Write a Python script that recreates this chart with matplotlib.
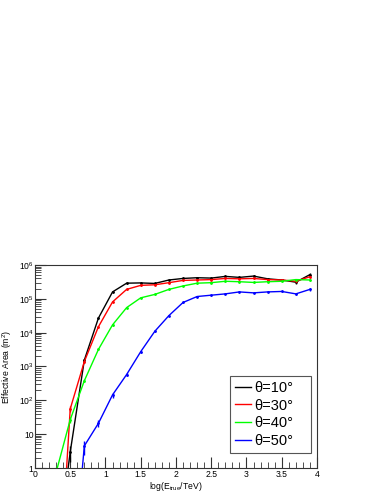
import matplotlib
matplotlib.use("Agg")
import matplotlib.pyplot as plt
import numpy as np
from matplotlib.ticker import LogLocator, NullFormatter, FuncFormatter, MultipleLocator, FixedLocator

plt.rcParams['font.family'] = ['Liberation Sans', 'DejaVu Sans']
plt.rcParams['mathtext.fontset'] = 'custom'
plt.rcParams['mathtext.rm'] = 'Liberation Sans'
plt.rcParams['mathtext.it'] = 'Liberation Sans:italic'

x10 = [0.3, 0.5, 0.7, 0.9, 1.1, 1.3, 1.5, 1.7, 1.9, 2.1, 2.3, 2.5, 2.7, 2.9, 3.1, 3.3, 3.5, 3.7, 3.9]
y10 = [0.002, 3, 1.55e3, 2.7e4, 1.6e5, 2.9e5, 2.95e5, 2.85e5, 3.6e5, 4.0e5, 4.2e5, 4.1e5, 4.6e5, 4.3e5, 4.7e5, 3.9e5, 3.6e5, 3.1e5, 5.2e5]
e10 = [0.0, 1.5, 150, 1.5e3, 5e3, 8e3, 8e3, 8e3, 1e4, 1e4, 1.2e4, 1.2e4, 1.5e4, 1.5e4, 2e4, 2e4, 2.5e4, 4e4, 6e4]

x30 = [0.3, 0.5, 0.7, 0.9, 1.1, 1.3, 1.5, 1.7, 1.9, 2.1, 2.3, 2.5, 2.7, 2.9, 3.1, 3.3, 3.5, 3.7, 3.9]
y30 = [1e-5, 56, 1.4e3, 1.5e4, 8.1e4, 1.9e5, 2.5e5, 2.6e5, 3.0e5, 3.5e5, 3.6e5, 3.7e5, 4.0e5, 3.9e5, 4.0e5, 3.7e5, 3.6e5, 3.3e5, 4.5e5]
e30 = [0.0, 10, 120, 800, 3e3, 5e3, 6e3, 7e3, 8e3, 1e4, 1e4, 1e4, 1.2e4, 1.3e4, 1.5e4, 1.6e4, 2e4, 3e4, 4.5e4]

x40 = [0.3, 0.5, 0.7, 0.9, 1.1, 1.3, 1.5, 1.7, 1.9, 2.1, 2.3, 2.5, 2.7, 2.9, 3.1, 3.3, 3.5, 3.7, 3.9]
y40 = [0.75, 27, 380, 3.2e3, 1.7e4, 5.5e4, 1.07e5, 1.35e5, 1.9e5, 2.4e5, 2.9e5, 3.0e5, 3.3e5, 3.2e5, 3.05e5, 3.2e5, 3.3e5, 3.7e5, 3.6e5]
e40 = [0.3, 5, 40, 200, 800, 2e3, 3e3, 4e3, 5e3, 6e3, 7e3, 8e3, 9e3, 1e4, 1e4, 1.1e4, 1.3e4, 2e4, 2.5e4]

x50 = [0.5, 0.7, 0.9, 1.1, 1.3, 1.5, 1.7, 1.9, 2.1, 2.3, 2.5, 2.7, 2.9, 3.1, 3.3, 3.5, 3.7, 3.9]
y50 = [1e-4, 4.5, 21, 145, 580, 2.75e3, 1.1e4, 3.2e4, 7.8e4, 1.17e5, 1.28e5, 1.4e5, 1.6e5, 1.5e5, 1.6e5, 1.65e5, 1.4e5, 1.9e5]
e50 = [0.0, 2.0, 5, 25, 60, 200, 500, 1e3, 2e3, 3e3, 3.5e3, 4e3, 5e3, 5e3, 6e3, 8e3, 1.2e4, 1.8e4]

labels = ['θ=10°', 'θ=30°', 'θ=40°', 'θ=50°']
colors = ['black', '#ff0000', '#00ff00', '#0000ff']
xticks = [0, 0.5, 1, 1.5, 2, 2.5, 3, 3.5, 4]
yticks = [1, 10, 1e2, 1e3, 1e4, 1e5, 1e6]
yticklabels = ['1', '10', r'$10^{2}$', r'$10^{3}$', r'$10^{4}$', r'$10^{5}$', r'$10^{6}$']

fig = plt.figure(figsize=(3.82, 4.94), dpi=100)
ax = fig.add_axes([0.0916, 0.0526, 0.7382, 0.411])

series = [(x10, y10, e10), (x30, y30, e30), (x40, y40, e40), (x50, y50, e50)]
handles = []
for (xs, ys, es), c, lab in zip(series, colors, labels):
    ax.errorbar(xs, ys, yerr=es, color=c, lw=1.0, elinewidth=1.0, capsize=0,
                marker='o', markersize=1.0)
    h, = ax.plot([], [], color=c, lw=1.0, label=lab)
    handles.append(h)

ax.set_yscale('log')
ax.set_xlim(0, 4)
ax.set_ylim(1, 1e6)

ax.set_xticks(xticks)
ax.set_xticklabels(['%g' % v for v in xticks])
ax.xaxis.set_minor_locator(MultipleLocator(0.1))
ax.set_yticks(yticks)
ax.set_yticklabels(yticklabels)
minors = [m * 10 ** k for k in range(0, 6) for m in range(2, 10)]
ax.yaxis.set_minor_locator(FixedLocator(minors))
ax.yaxis.set_minor_formatter(NullFormatter())

ax.tick_params(axis='both', which='both', direction='in', labelsize=6.2,
               top=False, right=False, colors='#333333', labelcolor='black')
ax.tick_params(axis='x', which='both', pad=1.5)
ax.tick_params(axis='y', which='both', pad=1)
ax.tick_params(axis='both', which='major', length=8, width=0.8)
ax.tick_params(axis='both', which='minor', length=4, width=0.6)

for s in ax.spines.values():
    s.set_color('#333333')
    s.set_linewidth(0.8)

ax.set_xlabel(r'log(E$_{\mathrm{true}}$/TeV)', fontsize=6.2, labelpad=1)
ax.set_ylabel(r'Effective Area (m$^{2}$)', fontsize=6.2, labelpad=3)

leg = ax.legend(handles=handles, loc='lower left', bbox_to_anchor=(0.691, 0.074, 0.288, 0.369),
                mode='expand', fontsize=10.5, frameon=True, fancybox=False, framealpha=1,
                edgecolor='#555555', handlelength=1.1, handletextpad=0.2, borderpad=0.35,
                labelspacing=0.25, borderaxespad=0)
leg.get_frame().set_linewidth(0.8)

fig.savefig('out.png', dpi=100)
